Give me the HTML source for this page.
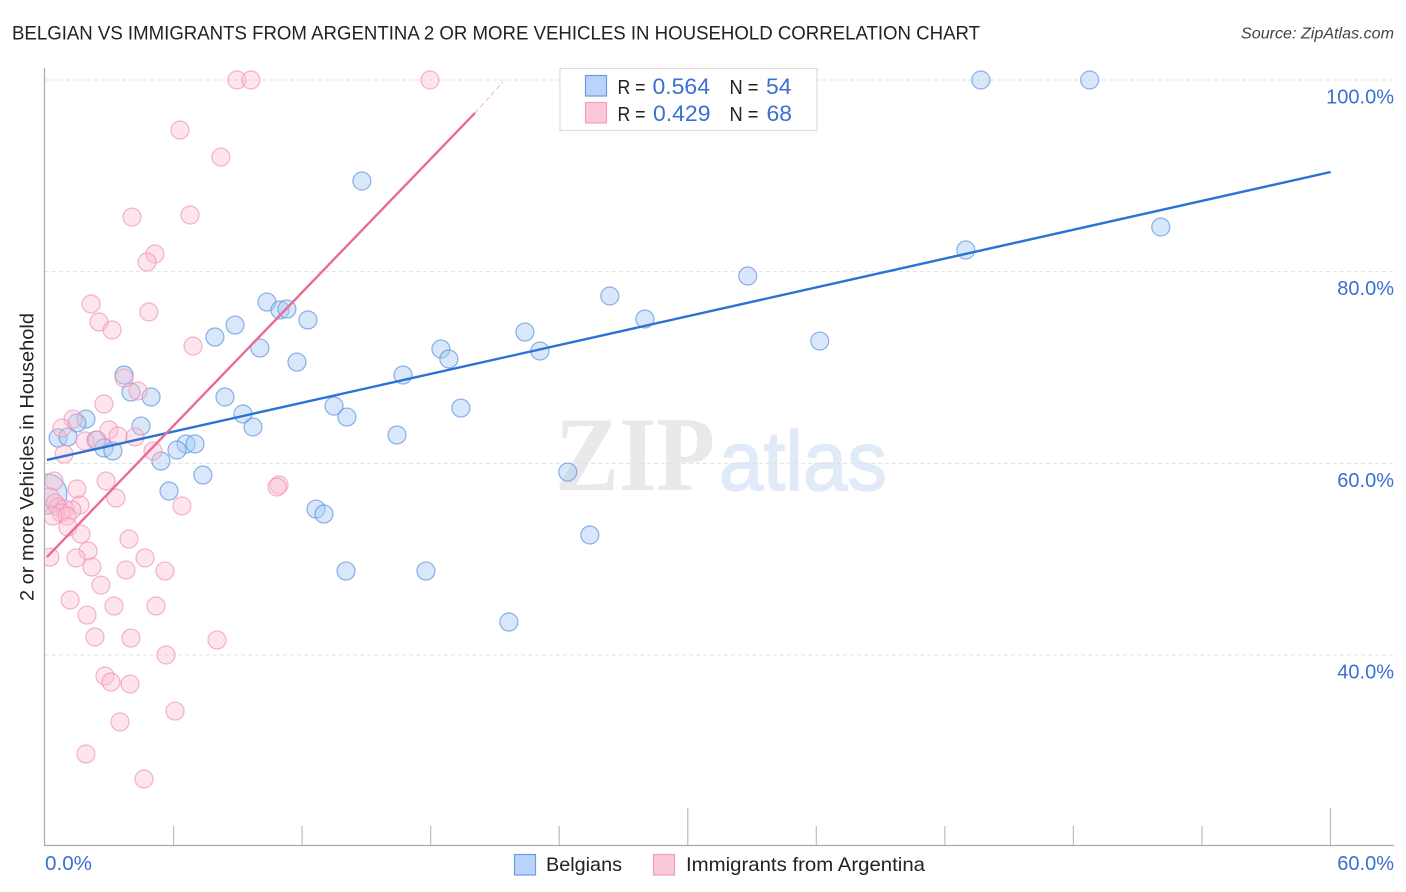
<!DOCTYPE html>
<html lang="en">
<head>
<meta charset="utf-8">
<title>Belgian vs Immigrants from Argentina Correlation Chart</title>
<style>
html,body{margin:0;padding:0;background:#fff;}
svg{display:block;font-family:"Liberation Sans",sans-serif;}
</style>
</head>
<body>
<svg id="chart" width="1406" height="892" viewBox="0 0 1406 892" xmlns="http://www.w3.org/2000/svg">
  <defs><clipPath id="plot-clip"><rect x="45" y="60" width="1349" height="786"/></clipPath></defs>
  <text x="12" y="39.500" font-size="19.500" fill="#222" textLength="968" lengthAdjust="spacingAndGlyphs">BELGIAN VS IMMIGRANTS FROM ARGENTINA 2 OR MORE VEHICLES IN HOUSEHOLD CORRELATION CHART</text>
  <text x="1241" y="38.500" font-size="15.500" font-style="italic" fill="#444" textLength="153" lengthAdjust="spacingAndGlyphs">Source: ZipAtlas.com</text>

  <g>
    <text x="555" y="490" font-family="'Liberation Serif',serif" font-size="106" font-weight="bold" fill="#e9e9e9" textLength="160" lengthAdjust="spacingAndGlyphs">ZIP</text>
    <text x="719" y="490" font-size="84" fill="#e0eaf9" stroke="#e0eaf9" stroke-width="1.500" textLength="168" lengthAdjust="spacingAndGlyphs">atlas</text>
  </g>

  <g id="grid"></g>
  <g id="axes"></g>
  <g id="ticklabels"></g>
  <g id="points" clip-path="url(#plot-clip)"></g>
  <g id="trends"></g>

  <text transform="translate(33.500,457) rotate(-90)" font-size="19.500" fill="#222" text-anchor="middle" textLength="288" lengthAdjust="spacingAndGlyphs">2 or more Vehicles in Household</text>

  <g font-size="20">
    <rect x="560" y="68.500" width="257" height="62" fill="#fff" fill-opacity="0.95" stroke="#dcdcdc" stroke-width="1.200"/>
    <rect x="585.500" y="75.500" width="21" height="20.500" fill="#b9d4f8" stroke="#6d9be0" stroke-width="1.200"/>
    <text x="617.500" y="94" fill="#222" textLength="28" lengthAdjust="spacingAndGlyphs">R =</text>
    <text x="652.500" y="94" fill="#3b6fd0" font-size="22" textLength="57.500" lengthAdjust="spacingAndGlyphs">0.564</text>
    <text x="729.500" y="94" fill="#222" textLength="29" lengthAdjust="spacingAndGlyphs">N =</text>
    <text x="766" y="94" fill="#3b6fd0" font-size="22" textLength="25.500" lengthAdjust="spacingAndGlyphs">54</text>
    <rect x="585.500" y="102.500" width="21" height="20.500" fill="#fcc8d9" stroke="#f0a0ba" stroke-width="1.200"/>
    <text x="617.500" y="121" fill="#222" textLength="28" lengthAdjust="spacingAndGlyphs">R =</text>
    <text x="653" y="121" fill="#3b6fd0" font-size="22" textLength="57.500" lengthAdjust="spacingAndGlyphs">0.429</text>
    <text x="729.500" y="121" fill="#222" textLength="29" lengthAdjust="spacingAndGlyphs">N =</text>
    <text x="766.500" y="121" fill="#3b6fd0" font-size="22" textLength="25.500" lengthAdjust="spacingAndGlyphs">68</text>
  </g>

  <g font-size="19.500" fill="#222">
    <rect x="514.500" y="854.500" width="21" height="20.500" fill="#b9d4f8" stroke="#6d9be0" stroke-width="1.200"/>
    <text x="546" y="871" textLength="76" lengthAdjust="spacingAndGlyphs">Belgians</text>
    <rect x="653.500" y="854.500" width="21" height="20.500" fill="#fcc8d9" stroke="#f0a0ba" stroke-width="1.200"/>
    <text x="686" y="871" textLength="239" lengthAdjust="spacingAndGlyphs">Immigrants from Argentina</text>
  </g>
</svg>
<script>
const xTickValues = [0, 6, 12, 18, 24, 30, 36, 42, 48, 54, 60];
const xLabelValues = ['0.0%', '60.0%'];
const yTickValues = [100, 80, 60, 40];
const yTickLabels = ['100.0%', '80.0%', '60.0%', '40.0%'];

const belgianX = [43.68,48.76,14.79,52.08,42.98,32.80,26.36,10.36,10.97,11.29,12.27,28.0,8.87,7.93,22.4,36.16,10.03,18.48,18.85,23.1,11.76,16.71,3.69,4.01,4.95,8.4,13.49,19.41,9.24,14.09,1.91,9.71,4.48,1.49,16.43,0.61,1.07,2.38,6.58,7.0,6.16,2.75,3.17,5.41,24.4,7.37,5.79,12.65,13.02,25.43,14.05,17.78,21.65,0.09];
const belgianY = [100,100,89.46,84.66,82.26,79.55,77.46,76.83,76.0,76.1,74.96,75.06,74.43,73.18,73.7,72.76,72.03,71.93,70.89,71.72,70.57,69.22,69.22,67.44,66.92,66.92,65.98,65.77,65.15,64.83,64.62,63.79,63.89,64.21,62.96,62.64,62.75,62.43,62.02,62.02,61.39,61.6,61.29,60.24,59.09,58.78,57.11,55.23,54.71,52.52,48.76,48.76,43.44,56.8];
const largeBelgianIndex = 53;

const argentinaX = [8.96,9.61,17.97,6.3,8.21,4.06,6.77,5.13,4.76,2.15,4.85,2.52,3.13,6.91,3.69,4.34,2.75,1.31,0.79,2.99,3.41,4.2,1.87,2.43,5.04,0.89,10.92,10.83,2.85,0.42,1.49,3.31,6.39,1.63,0.23,0.47,0.61,0.93,1.26,0.75,1.03,0.37,1.07,1.68,3.92,2.01,1.45,4.67,0.23,2.19,3.78,5.6,2.61,1.17,3.22,5.18,1.96,2.33,4.01,8.03,5.65,2.8,3.08,3.97,3.5,6.07,1.91,4.62];
const argentinaY = [100,100,100,94.78,91.96,85.7,85.91,81.84,81.01,76.63,75.79,74.75,73.91,72.24,68.9,67.55,66.19,64.62,63.69,63.48,62.85,62.75,62.33,62.43,61.29,60.97,57.74,57.53,58.16,58.16,57.32,56.38,55.55,55.65,56.49,55.86,55.44,55.23,55.13,54.82,54.5,54.5,53.35,52.62,52.1,50.85,50.12,50.12,50.22,49.18,48.87,48.76,47.3,45.74,45.11,45.11,44.17,41.88,41.77,41.56,40.0,37.81,37.18,36.97,33.01,34.15,29.67,27.06];

const belgianTrendX = [0.09, 60.01];
const belgianTrendY = [60.35, 90.4];
const argentinaTrendX = [0.09, 20.07];
const argentinaTrendY = [50.22, 96.56];
const argentinaExtensionX = [20.07, 21.37];
const argentinaExtensionY = [96.56, 99.79];

const NS = 'http://www.w3.org/2000/svg';
function sx(v) { return 45 + v * (1330.5 - 45) / 60; }
function sy(v) { return 80 + (100 - v) * (655 - 80) / 60; }
function make(tag, attrs, parent) {
  const el = document.createElementNS(NS, tag);
  for (const k in attrs) el.setAttribute(k, attrs[k]);
  parent.appendChild(el);
  return el;
}
const gridG = document.getElementById('grid');
const axesG = document.getElementById('axes');
const labelsG = document.getElementById('ticklabels');
const pointsG = document.getElementById('points');
const trendsG = document.getElementById('trends');

yTickValues.forEach(function (v, i) {
  const line = make('line', {x1: 45, x2: 1394, y1: sy(v), y2: sy(v), stroke: '#e0e0e0', 'stroke-width': 1, 'stroke-dasharray': '4 3'}, gridG);
  
  
  const label = make('text', {x: 1394, y: sy(v) + 23.5, 'text-anchor': 'end', 'font-size': 20, fill: '#3b6fd0'}, labelsG);
  
  
  label.textContent = yTickLabels[i];
});

const yAxis = make('line', {x1: 44.5, x2: 44.5, y1: 68, y2: 846, stroke: '#aaaaaa', 'stroke-width': 1.2}, axesG);


const xAxis = make('line', {x1: 44, x2: 1394, y1: 845.5, y2: 845.5, stroke: '#aaaaaa', 'stroke-width': 1.2}, axesG);



xTickValues.forEach(function (v, i) {
  if (i === 0) return;
  const major = (v === 30 || v === 60);
  const tick = make('line', {x1: sx(v), x2: sx(v), y1: major ? 808 : 826, y2: 845, stroke: '#bdbdbd', 'stroke-width': 1.2}, axesG);
  
  
});

const xLabelLeft = make('text', {x: 45, y: 870, 'font-size': 20, fill: '#3b6fd0', textLength: 47, lengthAdjust: 'spacingAndGlyphs'}, labelsG);


xLabelLeft.textContent = xLabelValues[0];
const xLabelRight = make('text', {x: 1394, y: 870, 'text-anchor': 'end', 'font-size': 20, fill: '#3b6fd0'}, labelsG);


xLabelRight.textContent = xLabelValues[1];

belgianX.forEach(function (v, i) {
  const r = i === largeBelgianIndex ? 20 : 9;
  const c = make('circle', {cx: sx(v), cy: sy(belgianY[i]), r: r, fill: '#a9cbf5', 'fill-opacity': 0.45, stroke: '#5b92e0', 'stroke-opacity': 0.7, 'stroke-width': 1.2}, pointsG);
  
  
});
argentinaX.forEach(function (v, i) {
  const c = make('circle', {cx: sx(v), cy: sy(argentinaY[i]), r: 9, fill: '#fbbfd3', 'fill-opacity': 0.42, stroke: '#ee8fae', 'stroke-opacity': 0.65, 'stroke-width': 1.2}, pointsG);
  
  
});

const blueTrend = make('line', {x1: sx(belgianTrendX[0]), y1: sy(belgianTrendY[0]), x2: sx(belgianTrendX[1]), y2: sy(belgianTrendY[1]), stroke: '#2a72d6', 'stroke-width': 2.4}, trendsG);


const pinkTrend = make('line', {x1: sx(argentinaTrendX[0]), y1: sy(argentinaTrendY[0]), x2: sx(argentinaTrendX[1]), y2: sy(argentinaTrendY[1]), stroke: '#ec6b94', 'stroke-width': 2.4}, trendsG);


const pinkExt = make('line', {x1: sx(argentinaExtensionX[0]), y1: sy(argentinaExtensionY[0]), x2: sx(argentinaExtensionX[1]), y2: sy(argentinaExtensionY[1]), stroke: '#ec6b94', 'stroke-width': 0.7, 'stroke-dasharray': '5 3', 'stroke-opacity': 0.7}, trendsG);


</script>
</body>
</html>
